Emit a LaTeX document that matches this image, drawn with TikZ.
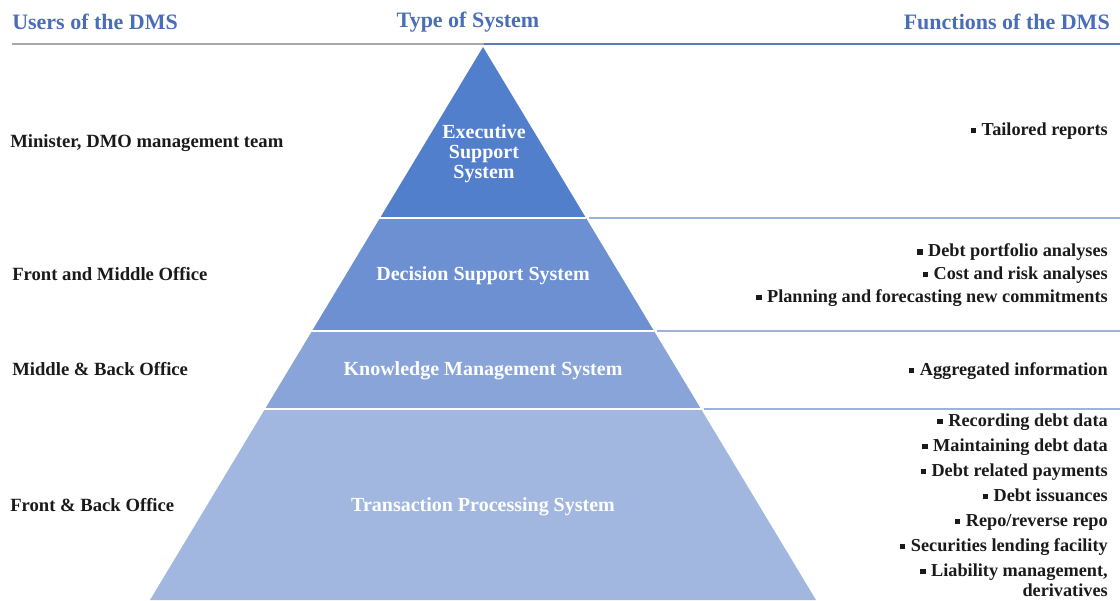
\documentclass[tikz,border=0pt]{standalone}
\usepackage{fontspec}
\setmainfont{Liberation Serif}
\definecolor{hdrblue}{HTML}{4A6EB5}
\definecolor{hdrline}{HTML}{5A7DB8}
\definecolor{hdrgray}{HTML}{A8A8A8}
\definecolor{layA}{HTML}{527FCB}
\definecolor{layB}{HTML}{6C90D1}
\definecolor{layC}{HTML}{88A4D9}
\definecolor{layD}{HTML}{A1B7E0}
\definecolor{sepline}{HTML}{9DB3DC}
\definecolor{txt}{HTML}{1A1A1A}
\newcommand{\bul}{\raisebox{0.25ex}{\rule{0.3em}{0.3em}}\hspace{0.3em}}
\tikzset{
  hdr/.style={font=\bfseries\fontsize{16.5}{18}\selectfont, text=hdrblue, inner sep=0pt},
  user/.style={font=\bfseries\fontsize{14}{16}\selectfont, text=txt, anchor=west, inner sep=0pt},
  func/.style={font=\bfseries\fontsize{13.7}{18.75}\selectfont, text=txt, anchor=east, align=right, inner sep=0pt},
  sys/.style={font=\bfseries\fontsize{15}{15}\selectfont, text=white, align=center, inner sep=0pt},
  sep/.style={draw=sepline, line width=1.6pt},
  gap/.style={draw=white, line width=2.2pt}
}
\begin{document}
\begin{tikzpicture}[x=0.75pt,y=-0.75pt]
\useasboundingbox (0,0) rectangle (1120,600);
% header
\node[hdr, anchor=west] (hU) at (12,22) {Users of the DMS};
\node[hdr] (hT) at (468,22) {Type of System};
\node[hdr, anchor=east] (hF) at (1110,22) {Functions of the DMS};
\coordinate (hl0) at (12,44);
\coordinate (hl1) at (484,44);
\coordinate (hl2) at (1120,44);
\draw[hdrgray, line width=1.4pt] (hl0) -- (hl1);
\draw[hdrline, line width=2pt] (hl1) -- (hl2);
% pyramid layers
\coordinate (apex) at (483,47);
\coordinate (L1) at (380,218); \coordinate (R1) at (586,218);
\coordinate (L2) at (312,331); \coordinate (R2) at (654,331);
\coordinate (L3) at (265,409); \coordinate (R3) at (701,409);
\coordinate (L4) at (150,600); \coordinate (R4) at (816,600);
\fill[layA] (apex) -- (R1) -- (L1) -- cycle;
\fill[layB] (L1) -- (R1) -- (R2) -- (L2) -- cycle;
\fill[layC] (L2) -- (R2) -- (R3) -- (L3) -- cycle;
\fill[layD] (L3) -- (R3) -- (R4) -- (L4) -- cycle;
\coordinate (E1) at (1120,218);
\coordinate (E2) at (1120,331);
\coordinate (E3) at (1120,409);
\draw[gap] ([xshift=-3]L1) -- (R1);
\draw[gap] ([xshift=-3]L2) -- (R2);
\draw[gap] ([xshift=-3]L3) -- (R3);
\draw[sep] ([xshift=2]R1) -- (E1);
\draw[sep] ([xshift=2]R2) -- (E2);
\draw[sep] ([xshift=2]R3) -- (E3);
% system labels
\node[sys] (s1) at (484,154) {Executive\\Support\\System};
\node[sys] (s2) at (483,276) {Decision Support System};
\node[sys] (s3) at (483,371) {Knowledge Management System};
\node[sys] (s4) at (483,507) {Transaction Processing System};
% users
\node[user] (u1) at (10,143) {Minister, DMO management team};
\node[user] (u2) at (12,274) {Front and Middle Office};
\node[user] (u3) at (12,369) {Middle \& Back Office};
\node[user] (u4) at (10,505) {Front \& Back Office};
% functions
\node[func] (f1) at (1108,131) {\bul Tailored reports};
\node[func, font=\bfseries\fontsize{13.7}{17}\selectfont] (f2) at (1108,275) {\bul Debt portfolio analyses\\\bul Cost and risk analyses\\\bul Planning and forecasting new commitments};
\node[func] (f3) at (1108,371) {\bul Aggregated information};
\node[func] (f4) at (1108,505.5) {\bul Recording debt data\\\bul Maintaining debt data\\\bul Debt related payments\\\bul Debt issuances\\\bul Repo/reverse repo\\\bul Securities lending facility\\\bul Liability management,\\[-3.5pt] derivatives};
\end{tikzpicture}
\end{document}
